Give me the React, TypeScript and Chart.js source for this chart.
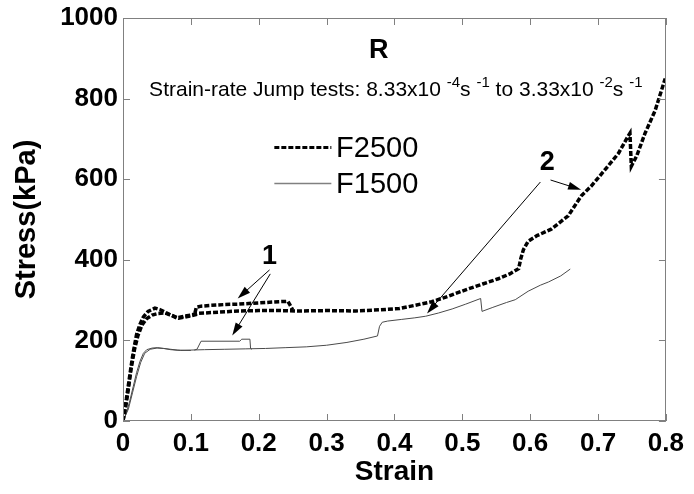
import React, { useEffect, useRef } from "react";
import { Chart, registerables } from "chart.js";

Chart.register(...registerables);

// ---------- data ----------
const xTicks = [0, 0.1, 0.2, 0.3, 0.4, 0.5, 0.6, 0.7, 0.8];
const yTicks = [0, 200, 400, 600, 800, 1000];

const f2500Strain = [0, 0.002, 0.005, 0.008, 0.011, 0.015, 0.02, 0.025, 0.03, 0.037, 0.047, 0.055, 0.062, 0.07, 0.079, 0.09, 0.1, 0.11, 0.14, 0.17, 0.2, 0.23, 0.26, 0.3, 0.343, 0.38, 0.407, 0.43, 0.455, 0.48, 0.504, 0.53, 0.553, 0.57, 0.583, 0.586, 0.59, 0.597, 0.61, 0.631, 0.656, 0.675, 0.69, 0.71, 0.73, 0.743, 0.747, 0.749, 0.757, 0.769, 0.784, 0.799];
const f2500Stress = [0, 25, 55, 90, 125, 170, 215, 240, 258, 272, 280, 276, 270, 263, 256, 260, 263, 267, 270, 273, 274, 274, 273, 274, 273, 276, 279, 287, 296, 310, 325, 340, 353, 365, 378, 402, 425, 446, 460, 476, 509, 558, 583, 623, 664, 703, 714, 632, 658, 713, 770, 850];

const f2500bStrain = [0, 0.004, 0.008, 0.012, 0.017, 0.022, 0.028, 0.035, 0.043, 0.052, 0.062, 0.072, 0.082, 0.095, 0.11];
const f2500bStress = [0, 35, 80, 130, 178, 212, 238, 254, 263, 267, 268, 262, 255, 259, 265];

const f2500JumpStrain = [0.106, 0.108, 0.115, 0.13, 0.15, 0.17, 0.19, 0.21, 0.23, 0.243, 0.246, 0.25];
const f2500JumpStress = [268, 282, 285, 287, 289, 290, 292, 294, 296, 297, 288, 276];

const f1500Strain = [0, 0.005, 0.01, 0.015, 0.02, 0.025, 0.03, 0.035, 0.043, 0.051, 0.06, 0.07, 0.085, 0.1, 0.12, 0.15, 0.18, 0.21, 0.24, 0.27, 0.3, 0.33, 0.355, 0.375, 0.378, 0.382, 0.39, 0.41, 0.43, 0.446, 0.465, 0.485, 0.505, 0.527, 0.529, 0.545, 0.565, 0.578, 0.597, 0.615, 0.627, 0.645, 0.659];
const f1500Stress = [0, 20, 50, 85, 120, 148, 168, 177, 181, 182, 180, 177, 175, 176, 177, 178, 179, 180, 182, 184, 188, 195, 203, 211, 235, 245, 248, 252, 256, 260, 268, 278, 290, 304, 272, 282, 294, 301, 322, 337, 345, 360, 377];

const f1500bStrain = [0, 0.008, 0.014, 0.02, 0.026, 0.032, 0.04, 0.05, 0.06, 0.08, 0.1];
const f1500bStress = [0, 30, 70, 110, 145, 168, 178, 181, 180, 176, 175];

const f1500JumpStrain = [0.105, 0.109, 0.115, 0.14, 0.172, 0.175, 0.187, 0.188, 0.19];
const f1500JumpStress = [176, 178, 198, 198, 198, 203, 203, 180, 178];

const seriesNames = ["F2500", "F1500"];
const titleText = "R";
const subtitleParts = [
  { t: "Strain-rate Jump tests: 8.33x10 ", sup: false },
  { t: "-4", sup: true },
  { t: "s ", sup: false },
  { t: "-1", sup: true },
  { t: " to 3.33x10 ", sup: false },
  { t: "-2", sup: true },
  { t: "s ", sup: false },
  { t: "-1", sup: true },
];
// annotation anchors in data units
const label1 = { x: 0.216, y: 407, text: "1" };
const label2 = { x: 0.625, y: 642, text: "2" };
const arrows = [
  { x1: 0.216, y1: 375, x2: 0.169, y2: 304 },
  { x1: 0.217, y1: 365, x2: 0.161, y2: 212 },
  { x1: 0.63, y1: 598, x2: 0.675, y2: 574 },
  { x1: 0.615, y1: 593, x2: 0.448, y2: 267 },
];
const titlePos = { x: 0.377, y: 919 };
const subtitlePos = { x: 0.402, y: 820 };
const legendPos = { x1: 0.223, x2: 0.307, xt: 0.314, y: [681, 591] };

const FONT = "'Liberation Sans', Arial, Helvetica, sans-serif";
const F2500_COLOR = "#000000";
const F1500_COLOR = "#4a4a4a";

function pts(xs: number[], ys: number[]) {
  return xs.map((x, i) => ({ x, y: ys[i] }));
}

const thick = {
  borderColor: F2500_COLOR,
  borderWidth: 3.5,
  borderDash: [5, 2],
  pointRadius: 0,
  showLine: true,
  fill: false,
  tension: 0,
};
const thin = {
  borderColor: F1500_COLOR,
  borderWidth: 1,
  pointRadius: 0,
  showLine: true,
  fill: false,
  tension: 0,
};

function drawArrow(ctx: CanvasRenderingContext2D, x1: number, y1: number, x2: number, y2: number) {
  const ang = Math.atan2(y2 - y1, x2 - x1);
  const L = 13;
  const W = 4;
  ctx.beginPath();
  ctx.moveTo(x1, y1);
  ctx.lineTo(x2 - Math.cos(ang) * L * 0.6, y2 - Math.sin(ang) * L * 0.6);
  ctx.stroke();
  ctx.beginPath();
  ctx.moveTo(x2, y2);
  ctx.lineTo(x2 - Math.cos(ang) * L - Math.sin(ang) * W, y2 - Math.sin(ang) * L + Math.cos(ang) * W);
  ctx.lineTo(x2 - Math.cos(ang) * L + Math.sin(ang) * W, y2 - Math.sin(ang) * L - Math.cos(ang) * W);
  ctx.closePath();
  ctx.fill();
}

const framePlugin = {
  id: "frameAndNotes",
  afterDatasetsDraw(chart: any) {
    const { ctx, chartArea: a, scales } = chart;
    const xs = scales.x;
    const ys = scales.y;
    ctx.save();
    // frame
    ctx.strokeStyle = "#808080";
    ctx.lineWidth = 1;
    ctx.setLineDash([]);
    ctx.strokeRect(Math.round(a.left) + 0.5, Math.round(a.top) + 0.5, Math.round(a.width) - 1, Math.round(a.height) - 1);
    const T = 7;
    ctx.beginPath();
    xTicks.forEach((v) => {
      const px = Math.round(xs.getPixelForValue(v)) + 0.5;
      ctx.moveTo(px, a.bottom);
      ctx.lineTo(px, a.bottom - T);
      ctx.moveTo(px, a.top);
      ctx.lineTo(px, a.top + T);
    });
    yTicks.forEach((v) => {
      const py = Math.round(ys.getPixelForValue(v)) + 0.5;
      ctx.moveTo(a.left, py);
      ctx.lineTo(a.left + T, py);
      ctx.moveTo(a.right, py);
      ctx.lineTo(a.right - T, py);
    });
    ctx.stroke();

    // title
    ctx.fillStyle = "#000";
    ctx.textBaseline = "middle";
    ctx.textAlign = "center";
    ctx.font = `bold 27px ${FONT}`;
    ctx.fillText(titleText, xs.getPixelForValue(titlePos.x), ys.getPixelForValue(titlePos.y));

    // subtitle with superscripts
    const normal = `21px ${FONT}`;
    const small = `15px ${FONT}`;
    let total = 0;
    subtitleParts.forEach((p) => {
      ctx.font = p.sup ? small : normal;
      total += ctx.measureText(p.t).width;
    });
    let cx = xs.getPixelForValue(subtitlePos.x) - total / 2;
    const cy = ys.getPixelForValue(subtitlePos.y);
    ctx.textAlign = "left";
    subtitleParts.forEach((p) => {
      ctx.font = p.sup ? small : normal;
      ctx.fillText(p.t, cx, p.sup ? cy - 8 : cy);
      cx += ctx.measureText(p.t).width;
    });

    // legend
    const dsets = [chart.data.datasets[0], chart.data.datasets[3]];
    dsets.forEach((ds: any, i: number) => {
      const py = Math.round(ys.getPixelForValue(legendPos.y[i])) + 0.5;
      ctx.strokeStyle = i === 0 ? ds.borderColor : "#808080";
      ctx.lineWidth = i === 0 ? 3 : 1.5;
      ctx.setLineDash(ds.borderDash || []);
      ctx.beginPath();
      ctx.moveTo(xs.getPixelForValue(legendPos.x1), py);
      ctx.lineTo(xs.getPixelForValue(legendPos.x2), py);
      ctx.stroke();
      ctx.setLineDash([]);
      ctx.fillStyle = "#000";
      ctx.font = `29px ${FONT}`;
      ctx.textAlign = "left";
      ctx.fillText(ds.label, xs.getPixelForValue(legendPos.xt), py + 1);
    });

    // annotation labels and arrows
    ctx.font = `bold 27px ${FONT}`;
    ctx.textAlign = "center";
    ctx.fillStyle = "#000";
    [label1, label2].forEach((l) => {
      ctx.fillText(l.text, xs.getPixelForValue(l.x), ys.getPixelForValue(l.y));
    });
    ctx.strokeStyle = "#000";
    ctx.lineWidth = 1;
    arrows.forEach((ar) => {
      drawArrow(
        ctx,
        xs.getPixelForValue(ar.x1),
        ys.getPixelForValue(ar.y1),
        xs.getPixelForValue(ar.x2),
        ys.getPixelForValue(ar.y2)
      );
    });
    ctx.restore();
  },
};

export default function App() {
  const ref = useRef<HTMLCanvasElement | null>(null);
  useEffect(() => {
    if (!ref.current) return;
    const chart = new Chart(ref.current, {
      type: "scatter",
      data: {
        datasets: [
          { label: seriesNames[0], data: pts(f2500Strain, f2500Stress), ...thick } as any,
          { label: seriesNames[0] + " b", data: pts(f2500bStrain, f2500bStress), ...thick } as any,
          { label: seriesNames[0] + " jump", data: pts(f2500JumpStrain, f2500JumpStress), ...thick } as any,
          { label: seriesNames[1], data: pts(f1500Strain, f1500Stress), ...thin } as any,
          { label: seriesNames[1] + " b", data: pts(f1500bStrain, f1500bStress), ...thin } as any,
          { label: seriesNames[1] + " jump", data: pts(f1500JumpStrain, f1500JumpStress), ...thin } as any,
        ],
      },
      options: {
        responsive: false,
        animation: false,
        devicePixelRatio: 1,
        layout: { padding: { top: 13, right: 26, left: 0, bottom: 0 } },
        plugins: { legend: { display: false }, tooltip: { enabled: false } },
        scales: {
          x: {
            type: "linear",
            min: 0,
            max: 0.8,
            afterBuildTicks: (s: any) => {
              s.ticks = xTicks.map((v) => ({ value: v }));
            },
            afterFit: (s: any) => {
              s.height = 73;
            },
            grid: { display: false, drawTicks: false },
            border: { display: false },
            ticks: {
              color: "#000",
              padding: 10,
              maxRotation: 0,
              autoSkip: false,
              font: { family: FONT, size: 26, weight: "bold", lineHeight: 1 },
              callback: (v: any) => (Number(v) === 0 ? "0" : Number(v).toFixed(1)),
            },
            title: {
              display: true,
              text: "Strain",
              color: "#000",
              font: { family: FONT, size: 28, weight: "bold", lineHeight: 1 },
              padding: { top: 0, bottom: 8 },
            },
          },
          y: {
            type: "linear",
            min: 0,
            max: 1000,
            afterBuildTicks: (s: any) => {
              s.ticks = yTicks.map((v) => ({ value: v }));
            },
            afterFit: (s: any) => {
              s.width = 123;
            },
            grid: { display: false, drawTicks: false },
            border: { display: false },
            ticks: {
              color: "#000",
              padding: 5,
              autoSkip: false,
              font: { family: FONT, size: 26, weight: "bold", lineHeight: 1 },
              callback: (v: any) => String(v),
            },
            title: {
              display: true,
              text: "Stress(kPa)",
              color: "#000",
              font: { family: FONT, size: 29, weight: "bold", lineHeight: 1 },
              padding: { top: 12, bottom: 0 },
            },
          },
        },
      },
      plugins: [framePlugin],
    } as any);
    return () => chart.destroy();
  }, []);
  return (
    <div style={{ position: "fixed", left: 0, top: 0, width: 694, height: 494, background: "#fff" }}>
      <canvas ref={ref} width={694} height={494} style={{ width: 694, height: 494 }} />
    </div>
  );
}
